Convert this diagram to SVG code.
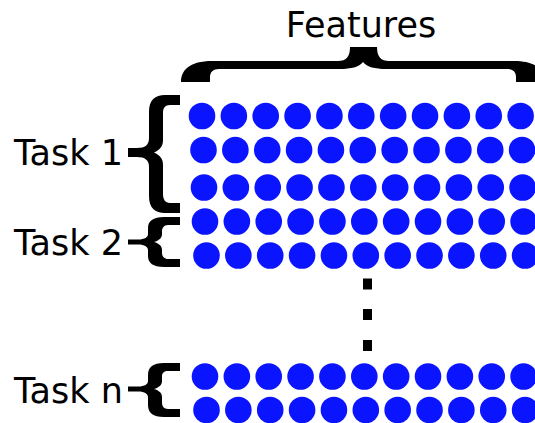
<svg xmlns="http://www.w3.org/2000/svg" xmlns:xlink="http://www.w3.org/1999/xlink" width="535" height="423" viewBox="0 0 535 423">
  <style>
    .lbl { font-family: "DejaVu Sans", Verdana, sans-serif; font-size: 35px; fill: #000; }
    .brace { fill: #000; }
    .dot { fill: #0b14ff; }
  </style>
  <defs>
    <circle id="c" r="13.3" class="dot"/>
    <!-- one row of eleven circles, spaced 31.86 apart -->
    <g id="row">
      <use xlink:href="#c" x="0"/>
      <use xlink:href="#c" x="31.86"/>
      <use xlink:href="#c" x="63.72"/>
      <use xlink:href="#c" x="95.58"/>
      <use xlink:href="#c" x="127.44"/>
      <use xlink:href="#c" x="159.3"/>
      <use xlink:href="#c" x="191.16"/>
      <use xlink:href="#c" x="223.02"/>
      <use xlink:href="#c" x="254.88"/>
      <use xlink:href="#c" x="286.74"/>
      <use xlink:href="#c" x="318.6"/>
    </g>
  </defs>
  <rect width="535" height="423" fill="#fff"/>

  <!-- feature header -->
  <g id="features">
    <text class="lbl" x="361" y="37" text-anchor="middle">Features</text>
  </g>

  <!-- task labels -->
  <g id="task1-label"><text class="lbl" x="14" y="165">Task 1</text></g>
  <g id="task2-label"><text class="lbl" x="14" y="255">Task 2</text></g>
  <g id="taskn-label"><text class="lbl" x="14" y="403">Task n</text></g>

  <!-- braces -->
  <g id="braces" class="brace">
    <path id="brace-features" d="M181 82 C181 70 190 61 212 61 L338 61 C346 61 350 57 350 47 L377 47 C377 57 381 61 389 61 L514 61 C536 61 545 70 545 82 L516 82 L516 77 C516 72 513 69 507 69 L386 69 C375 69 367 67 363 62 C359 67 351 69 340 69 L219 69 C213 69 210 72 210 77 L210 82 Z"/>
    <path id="brace-task1" d="M180 95 L165 95 C155 95 149 100 149 112 L149 138 C149 145 145 148 137 148 L128 148 L128 157 L137 157 C145 157 149 160 149 167 L149 196 C149 208 155 213 165 213 L180 213 L180 203 L170 203 C165 203 163 199 163 194 L163 165 C163 159 160 155 154 152.5 C160 150 163 146 163 140 L163 113 C163 108 165 105 170 105 L180 105 Z"/>
    <path id="brace-task2" d="M180 217 L164 217 C153 217 148 221 148 228 L148 234 C148 237 145 239.5 138 239.5 L128 239.5 L128 244.5 L138 244.5 C145 244.5 148 247 148 250 L148 256 C148 263 153 267 164 267 L180 267 L180 259 L168 259 C164 259 162 256 162 253 L162 250 C162 246 159 243.5 154 242 C159 240.5 162 238 162 234 L162 231 C162 228 164 225 168 225 L180 225 Z"/>
    <path id="brace-taskn" d="M180 363 L164 363 C153 363 148 367 148 375 L148 381 C148 384 145 386.5 138 386.5 L128 386.5 L128 391.5 L138 391.5 C145 391.5 148 394 148 397 L148 405 C148 413 153 417 164 417 L180 417 L180 409 L168 409 C164 409 162 406 162 403 L162 397 C162 393 159 390.5 154 389 C159 387.5 162 385 162 381 L162 376 C162 373 164 371 168 371 L180 371 Z"/>
  </g>

  <!-- feature rows -->
  <g id="task1-rows">
    <use xlink:href="#row" x="202" y="116"/>
    <use xlink:href="#row" x="203.5" y="150"/>
    <use xlink:href="#row" x="204" y="187.5"/>
  </g>
  <g id="task2-rows">
    <use xlink:href="#row" x="205" y="221.5"/>
    <use xlink:href="#row" x="206.5" y="255.5"/>
  </g>
  <g id="ellipsis">
    <rect x="363" y="278.5" width="9" height="11"/>
    <rect x="363" y="309" width="9" height="11"/>
    <rect x="363" y="340" width="9" height="11"/>
  </g>
  <g id="taskn-rows">
    <use xlink:href="#row" x="205" y="376.5"/>
    <use xlink:href="#row" x="206.5" y="410"/>
  </g>
</svg>
